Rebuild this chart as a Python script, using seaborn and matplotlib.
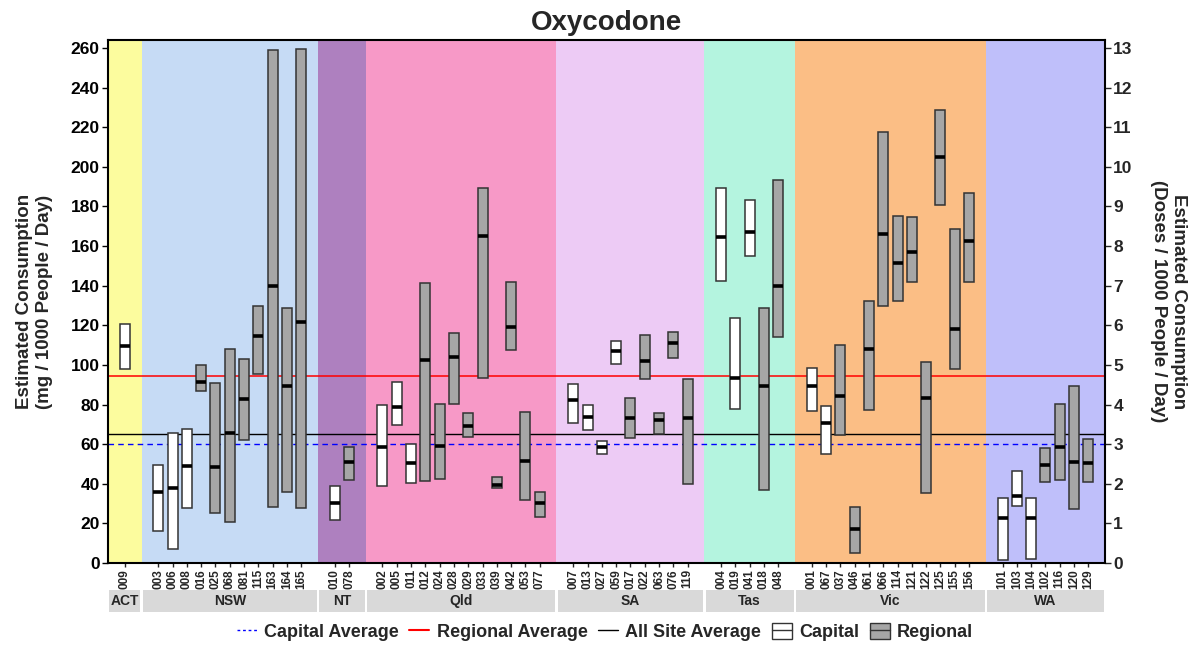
import matplotlib
matplotlib.use('Agg')
import numpy as np
import pandas as pd
import matplotlib.pyplot as plt
import seaborn as sns
from matplotlib.lines import Line2D
from matplotlib.patches import Patch

# jurisdictions and their panel colours
states = ['ACT', 'NSW', 'NT', 'Qld', 'SA', 'Tas', 'Vic', 'WA']
state_colors = ['#FCFC9E', '#C6DBF5', '#AE80BF', '#F799C7', '#EDCBF5',
                '#B4F4DF', '#FBBE85', '#BFBFFA']

# one entry per site (min / median / max, mg per 1000 people per day)
site_ids = ['009',
            '003', '006', '008', '016', '025', '068', '081', '115', '163', '164', '165',
            '010', '078',
            '002', '005', '011', '012', '024', '028', '029', '033', '039', '042', '053', '077',
            '007', '013', '027', '059', '017', '022', '063', '076', '119',
            '004', '019', '041', '018', '048',
            '001', '067', '037', '046', '061', '066', '114', '121', '122', '125', '155', '156',
            '101', '103', '104', '102', '116', '120', '129']
site_state = (['ACT'] + ['NSW'] * 11 + ['NT'] * 2 + ['Qld'] * 12 + ['SA'] * 9
              + ['Tas'] * 5 + ['Vic'] * 12 + ['WA'] * 7)
site_type = (['Capital']
             + ['Capital'] * 3 + ['Regional'] * 8
             + ['Capital'] + ['Regional']
             + ['Capital'] * 3 + ['Regional'] * 9
             + ['Capital'] * 4 + ['Regional'] * 5
             + ['Capital'] * 3 + ['Regional'] * 2
             + ['Capital'] * 2 + ['Regional'] * 10
             + ['Capital'] * 3 + ['Regional'] * 4)
low = [97.7,
       16.2, 7.0, 27.9, 86.9, 25.4, 20.6, 62.0, 95.2, 28.3, 35.7, 27.6,
       21.6, 41.8,
       38.8, 69.8, 40.2, 41.3, 42.2, 80.1, 63.6, 93.4, 38.0, 107.6, 31.6, 23.4,
       70.9, 66.9, 54.8, 100.4, 63.3, 92.9, 65.3, 103.5, 39.7,
       142.4, 77.5, 154.9, 36.6, 114.0,
       76.5, 54.8, 64.6, 5.0, 77.2, 129.6, 132.2, 141.9, 35.2, 180.7, 97.7, 142.1,
       1.6, 28.8, 2.0, 40.9, 41.8, 27.2, 40.9]
median = [109.6,
          35.9, 38.0, 49.0, 91.6, 48.7, 65.8, 82.6, 114.5, 139.9, 89.1, 121.5,
          30.5, 50.8,
          58.4, 78.8, 50.5, 102.6, 59.1, 104.0, 69.4, 165.2, 39.5, 119.0, 51.4, 30.5,
          82.4, 73.7, 58.6, 107.1, 73.0, 102.1, 72.3, 111.1, 73.0,
          164.8, 93.2, 167.0, 89.1, 139.6,
          89.3, 70.9, 84.2, 17.1, 108.2, 166.1, 151.5, 157.2, 83.1, 204.8, 118.3, 162.5,
          22.7, 33.9, 22.7, 49.4, 58.4, 50.8, 50.3]
high = [120.4,
        49.6, 65.5, 67.4, 99.9, 91.1, 108.0, 102.8, 129.6, 258.9, 128.9, 259.5,
        38.9, 58.6,
        79.9, 91.4, 60.2, 141.4, 80.4, 116.1, 75.9, 189.5, 43.5, 142.1, 76.4, 35.7,
        90.3, 79.7, 61.7, 112.2, 83.1, 114.9, 75.9, 116.5, 93.0,
        189.5, 123.9, 183.0, 128.7, 193.3,
        98.3, 79.5, 110.3, 28.3, 132.3, 217.8, 175.4, 174.9, 101.5, 228.8, 168.4, 186.8,
        33.0, 46.5, 33.0, 58.1, 80.2, 89.1, 62.4]

capital_avg = 60.0
regional_avg = 94.5
all_site_avg = 65.0
mg_per_dose = 20

# site positions: panels side by side with a margin on each side
pad = 1.17
positions, spans = [], []
offset = 0.0
for st in states:
    n = site_state.count(st)
    positions += [offset + pad + j for j in range(n)]
    end = offset + (n - 1) + 2 * pad
    spans.append((offset, end))
    offset = end

# boxplot with the box edges at min/max and the line at the median
rows = []
for p, t, lo, md, hi in zip(positions, site_type, low, median, high):
    for v in (lo, lo, md, hi, hi):
        rows.append({'pos': p, 'type': t, 'value': v})
df = pd.DataFrame(rows)

sns.set_theme(style='ticks')
plt.rcParams['font.family'] = ['Liberation Sans', 'DejaVu Sans']
plt.rcParams['font.weight'] = 'bold'

fig = plt.figure(figsize=(11.98, 6.46), dpi=100)
ax = fig.add_axes([0.0902, 0.1285, 0.8322, 0.8095])

for (s0, s1), c in zip(spans, state_colors):
    ax.axvspan(s0, s1, color=c, lw=0, zorder=0)

ax.axhline(capital_avg, color='blue', ls=(0, (4, 3)), lw=1, zorder=2)
ax.axhline(regional_avg, color='red', lw=1.1, zorder=2)
ax.axhline(all_site_avg, color='black', lw=1, zorder=2)

sns.boxplot(data=df, x='pos', y='value', hue='type', native_scale=True, dodge=False,
            width=0.7, palette={'Capital': 'white', 'Regional': '#A6A6A6'},
            saturation=1, whis=0, showcaps=False, showfliers=False,
            linecolor='#333333', linewidth=1.1,
            medianprops=dict(color='black', linewidth=2.6),
            legend=False, ax=ax, zorder=3)

ax.set_xlim(0, offset)
ax.set_ylim(0, 264)
ax.set_yticks(np.arange(0, 261, 20))
ax.set_xticks(positions)
ax.set_xticklabels(site_ids, rotation=90, fontsize=8.5, fontweight='bold')
ax.tick_params(axis='y', labelsize=12.5, length=4, width=1, colors='black', pad=2)
ax.tick_params(axis='x', length=3, width=1, pad=1.5)
for lab in ax.get_yticklabels():
    lab.set_fontweight('bold')
ax.set_xlabel('')
ax.set_ylabel('Estimated Consumption\n(mg / 1000 People / Day)',
              fontsize=13.5, fontweight='bold', labelpad=13)
ax.set_title('Oxycodone', fontsize=20, fontweight='bold', pad=7)
for sp in ax.spines.values():
    sp.set_visible(True)
    sp.set_linewidth(1.5)
    sp.set_color('black')

sec = ax.secondary_yaxis('right', functions=(lambda v: v / mg_per_dose,
                                             lambda v: v * mg_per_dose))
sec.set_yticks(np.arange(0, 14, 1))
sec.tick_params(labelsize=12.5, length=4, width=1, pad=2)
for lab in sec.get_yticklabels():
    lab.set_fontweight('bold')
sec.set_ylabel('Estimated Consumption\n(Doses / 1000 People / Day)',
               fontsize=13.5, fontweight='bold', rotation=270, labelpad=39)

# state strip under the site labels
strip = fig.add_axes([0.0902, 0.0526, 0.8322, 0.034])
for (s0, s1), st in zip(spans, states):
    strip.axvspan(s0 + 0.08, s1 - 0.08, color='#D9D9D9', lw=0)
    strip.text((s0 + s1) / 2, 0.5, st, ha='center', va='center',
               fontsize=10, fontweight='bold')
strip.set_xlim(0, offset)
strip.set_ylim(0, 1)
strip.axis('off')

handles = [Line2D([], [], color='blue', ls=(0, (2, 2)), lw=1),
           Line2D([], [], color='red', lw=1.5),
           Line2D([], [], color='black', lw=1),
           (Patch(facecolor='white', edgecolor='#333333', lw=1),
            Line2D([], [], color='#333333', lw=1)),
           (Patch(facecolor='#A6A6A6', edgecolor='#333333', lw=1),
            Line2D([], [], color='#333333', lw=1))]
labels = ['Capital Average', 'Regional Average', 'All Site Average', 'Capital', 'Regional']
fig.legend(handles, labels, loc='center', bbox_to_anchor=(0.505, 0.022), ncol=5,
           frameon=False, handlelength=1.1, handleheight=1.0, handletextpad=0.4,
           columnspacing=0.6, prop={'size': 13, 'weight': 'bold'})

fig.savefig('out.png', dpi=100)
